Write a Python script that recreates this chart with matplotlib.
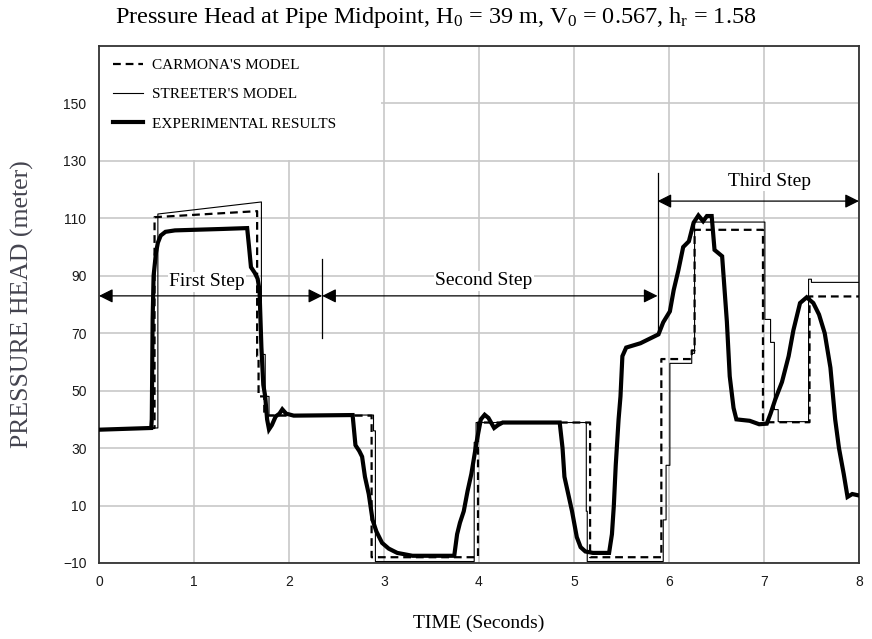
import matplotlib.pyplot as plt
from matplotlib.patches import Rectangle

plt.rcParams['font.family'] = ['Liberation Serif', 'DejaVu Serif']
plt.rcParams['mathtext.fontset'] = 'custom'
plt.rcParams['mathtext.rm'] = 'Liberation Serif'
plt.rcParams['mathtext.it'] = 'Liberation Serif:italic'

# experimental results (thick line)
exp_t = [0, 0.55, 0.556, 0.565, 0.575, 0.60, 0.62, 0.65, 0.70, 0.80, 1.00, 1.30, 1.56,
         1.58, 1.60, 1.64, 1.67, 1.69, 1.71, 1.73, 1.75, 1.77, 1.79, 1.82, 1.86, 1.90,
         1.93, 1.97, 2.05, 2.67, 2.70, 2.74, 2.77, 2.80, 2.84, 2.88, 2.92, 2.98, 3.05,
         3.14, 3.30, 3.74, 3.77, 3.80, 3.84, 3.88, 3.92, 3.95, 3.98, 4.02, 4.06, 4.10,
         4.16, 4.20, 4.25, 4.85, 4.88, 4.90, 4.94, 4.98, 5.03, 5.07, 5.12, 5.20, 5.37,
         5.40, 5.42, 5.44, 5.47, 5.49, 5.51, 5.55, 5.70, 5.89, 5.94, 6.01, 6.05, 6.10,
         6.15, 6.21, 6.26, 6.31, 6.36, 6.40, 6.45, 6.48, 6.56, 6.61, 6.64, 6.68, 6.71,
         6.85, 6.95, 7.03, 7.07, 7.12, 7.19, 7.26, 7.31, 7.38, 7.45, 7.52, 7.58, 7.64,
         7.70, 7.75, 7.79, 7.84, 7.88, 7.93, 8.00]
exp_h = [36.4, 37.0, 40, 75, 90, 98, 101.5, 104, 105.3, 105.8, 106, 106.3, 106.6,
         100, 93, 91, 89, 85, 65, 52, 48, 40, 36.5, 38, 41, 42,
         43.5, 42, 41.3, 41.5, 31, 29, 27, 20, 14, 5, 1, -3, -5,
         -6.5, -7.5, -7.5, 0, 4, 8, 15, 21, 27, 33, 40, 41.6, 40.5,
         37, 38, 38.9, 38.9, 30, 20, 14, 8, -1, -4.5, -6, -6.5, -6.5,
         0, 10, 24, 40, 48, 62, 65, 66.5, 69.6, 73.8, 77.6, 85, 92,
         100, 102, 108.5, 111, 109, 110.8, 110.8, 99, 96.8, 74, 55, 44, 40,
         39.5, 38.3, 38.5, 42, 47, 53, 62, 71, 80.5, 82.5, 80.5, 76.5, 70,
         58, 40, 30, 21, 13, 14, 13.5]

# Carmona's model (dashed)
car_t = [0, 0.55, 0.585, 0.585, 1.665, 1.665, 1.68, 1.68, 1.74, 1.74, 2.87, 2.87,
         3.99, 3.99, 5.17, 5.17, 5.92, 5.92, 6.24, 6.24, 6.27, 6.27, 6.99, 6.99,
         7.48, 7.48, 8.0]
car_h = [36.4, 37, 37, 110.4, 112.5, 62, 62, 48, 48, 41.3, 41.3, -8,
         -8, 38.9, 38.9, -8, -8, 61, 61, 64, 64, 106, 106, 39,
         39, 82.8, 82.8]

# Streeter's model (thin line)
str_t = [0, 0.55, 0.62, 0.62, 1.71, 1.71, 1.75, 1.75, 1.79, 1.79, 2.89, 2.89, 2.91,
         2.91, 3.95, 3.95, 3.97, 3.97, 5.13, 5.13, 5.14, 5.14, 5.94, 5.94, 5.97,
         5.97, 6.01, 6.01, 6.24, 6.24, 6.27, 6.27, 7.01, 7.01, 7.07, 7.07, 7.11,
         7.11, 7.15, 7.15, 7.47, 7.47, 7.50, 7.50, 8.0]
str_h = [36.4, 37, 37, 111.5, 115.7, 62.6, 62.6, 48, 48, 41.5, 41.5, 36, 36,
         -9.5, -9.5, 32, 32, 38.9, 38.9, 8, 8, -9.5, -9.5, 5, 5,
         24, 24, 59.5, 59.5, 63, 63, 108.7, 108.7, 74.8, 74.8, 66.8, 66.8,
         43.4, 43.4, 39.2, 39.2, 88.8, 88.8, 87.7, 87.7]

y_ticks = list(range(-10, 171, 20))
y_tick_labels = [str(v).replace('-', '\u2212') if v < 170 else '' for v in y_ticks]

fig = plt.figure(figsize=(8.72, 6.39), dpi=100)
fig.subplots_adjust(left=0.1135, right=0.985, top=0.928, bottom=0.119)
ax = fig.add_subplot(111)

l_car, = ax.plot(car_t, car_h, color='black', lw=1.6, linestyle=(0, (3.5, 2.2)),
                 label="CARMONA'S MODEL", zorder=3)
l_str, = ax.plot(str_t, str_h, color='black', lw=0.8, label="STREETER'S MODEL", zorder=3)
l_exp, = ax.plot(exp_t, exp_h, color='black', lw=3.0, label='EXPERIMENTAL RESULTS',
                 zorder=4, solid_joinstyle='miter')

ax.set_xlim(0, 8)
ax.set_ylim(-10, 170)
ax.set_xticks(range(0, 9))
ax.set_yticks(y_ticks)
ax.set_yticklabels(y_tick_labels)
ax.set_axisbelow(True)
ax.grid(color='#c8c8c8', lw=1.2)
ax.tick_params(length=0, pad=9, labelsize=10, colors='#1a1a1a')
for lab in ax.get_xticklabels() + ax.get_yticklabels():
    lab.set_family('Liberation Sans')
for sp in ax.spines.values():
    sp.set_color('#333333')
    sp.set_linewidth(1.3)

# white area behind the legend
ax.add_patch(Rectangle((0, 130.4), 2.97, 39.6, facecolor='white', edgecolor='none', zorder=1))

# step markers
arrow_style = '<|-|>,head_length=0.6,head_width=0.3'
def step_arrow(t0, t1, h):
    ax.annotate('', xy=(t1, h), xytext=(t0, h), annotation_clip=False,
                arrowprops=dict(arrowstyle=arrow_style, color='black', lw=0.9,
                                mutation_scale=14, shrinkA=0, shrinkB=0))

step_arrow(0, 2.35, 83)
step_arrow(2.35, 5.88, 83)
step_arrow(5.88, 8, 116)
ax.plot([2.35, 2.35], [68.5, 95.8], color='black', lw=0.9, zorder=3)
ax.plot([5.88, 5.88], [69.3, 125.8], color='black', lw=0.9, zorder=3)

box = dict(facecolor='white', edgecolor='none', pad=1)
ax.text(1.14, 87.9, 'First Step', ha='center', va='center', fontsize=14, bbox=box, zorder=2)
ax.text(4.05, 88.2, 'Second Step', ha='center', va='center', fontsize=14, bbox=box, zorder=2)
ax.text(7.06, 122.8, 'Third Step', ha='center', va='center', fontsize=14, bbox=box, zorder=2)

ax.legend(handles=[l_car, l_str, l_exp], loc='upper left', bbox_to_anchor=(0.018, 0.976),
          frameon=False, fontsize=11, borderpad=0, borderaxespad=0, labelspacing=1.02,
          handlelength=2.0, handletextpad=0.6)

fig.text(0.5, 0.972,
         r'Pressure Head at Pipe Midpoint, $\mathrm{H_0}$ = 39 m, $\mathrm{V_0}$ = 0.567, $\mathrm{h_r}$ = 1.58',
         ha='center', va='center', fontsize=17.5)
ax.set_xlabel('TIME (Seconds)', fontsize=14)
ax.xaxis.set_label_coords(0.5, -0.116)
ax.xaxis.label.set_va('center')
ax.set_ylabel('PRESSURE HEAD (meter)', fontsize=18.5, color='#44444f')
ax.yaxis.set_label_coords(-0.101, 0.5)
ax.yaxis.label.set_va('center')

fig.savefig('out.png', dpi=100)
